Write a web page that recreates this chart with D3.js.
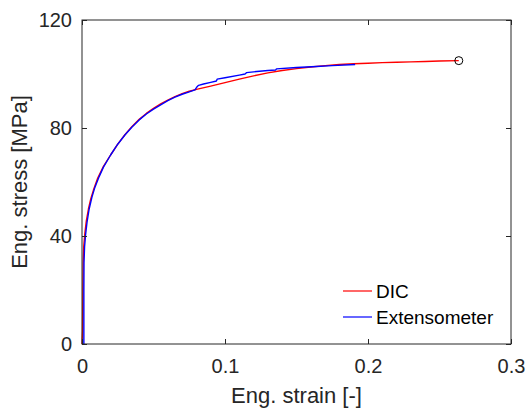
<!DOCTYPE html>
<html>
<head>
<meta charset="utf-8">
<script src="https://cdn.jsdelivr.net/npm/d3@7"></script>
<style>
  html, body { margin: 0; padding: 0; background: #fff; }
  svg { display: block; font-family: "Liberation Sans", Arial, Helvetica, sans-serif; }
</style>
</head>
<body>
<div id="chart"></div>
<script>
// ── Data ──────────────────────────────────────────────────────────────────────
const dicStrain = [0, 0.0004, 0.0006, 0.0008, 0.0012, 0.002, 0.003, 0.0045, 0.006, 0.008,
  0.011, 0.015, 0.02, 0.025, 0.03, 0.035, 0.04, 0.045, 0.05, 0.055, 0.06, 0.065, 0.07,
  0.075, 0.08, 0.09, 0.1, 0.11, 0.12, 0.13, 0.14, 0.15, 0.16, 0.17, 0.18, 0.19, 0.2,
  0.21, 0.22, 0.23, 0.24, 0.25, 0.2635];
const dicStress = [0, 5, 20, 30, 36, 41, 45.5, 50, 53.5, 57,
  61.5, 65.8, 70, 74, 77.5, 80.6, 83.2, 85.4, 87.3, 88.9, 90.3, 91.6, 92.7,
  93.6, 94.3, 95.5, 96.8, 98.1, 99.3, 100.4, 101.3, 102.0, 102.6, 103.1, 103.5, 103.8, 104.0,
  104.2, 104.35, 104.5, 104.65, 104.8, 104.95];

const extStrain = [0.0013, 0.0013, 0.0014, 0.0018, 0.0025, 0.0035, 0.005, 0.007, 0.009,
  0.012, 0.015, 0.02, 0.025, 0.03, 0.035, 0.04, 0.045, 0.05, 0.055, 0.06, 0.065, 0.07,
  0.075, 0.079, 0.0805, 0.0815, 0.085, 0.09, 0.094, 0.0945, 0.1, 0.11, 0.114, 0.115,
  0.12, 0.13, 0.1355, 0.136, 0.15, 0.164, 0.175, 0.191];
const extStress = [0, 20, 30, 36, 40.5, 45, 50, 54.5, 58,
  62, 65.5, 70, 74, 77.4, 80.4, 83, 85.2, 87, 88.6, 90.1, 91.4, 92.5,
  93.4, 94.1, 95.3, 95.8, 96.3, 96.9, 97.4, 98.1, 98.6, 99.6, 100.0, 100.5,
  100.8, 101.3, 101.5, 101.9, 102.4, 102.8, 103.1, 103.5];

const xTicks = [0, 0.1, 0.2, 0.3];
const xTickLabels = ["0", "0.1", "0.2", "0.3"];
const yTicks = [0, 40, 80, 120];
const seriesNames = ["DIC", "Extensometer"];
const seriesColors = ["#ff0000", "#0000ff"];

// ── Dimensions ────────────────────────────────────────────────────────────────
const W = 528, H = 408;
const margin = { top: 20, right: 17, bottom: 64, left: 82 };
const width  = W - margin.left - margin.right;
const height = H - margin.top  - margin.bottom;
const AXIS = "#262626";

const svg = d3.select("#chart").append("svg")
  .attr("width", W).attr("height", H);
const g = svg.append("g")
  .attr("transform", `translate(${margin.left},${margin.top})`);

// ── Scales ────────────────────────────────────────────────────────────────────
const x = d3.scaleLinear().domain([0, 0.3]).range([0, width]);
const y = d3.scaleLinear().domain([0, 120]).range([height, 0]);

// ── Curves ────────────────────────────────────────────────────────────────────
const line = d3.line().x(d => x(d[0])).y(d => y(d[1]));
const series = [
  d3.zip(dicStrain, dicStress),
  d3.zip(extStrain, extStress),
];
series.forEach((pts, i) => {
  g.append("path")
    .datum(pts)
    .attr("fill", "none")
    .attr("stroke", seriesColors[i])
    .attr("stroke-width", 1.4)
    .attr("stroke-linejoin", "round")
    .attr("d", line);
});

// end marker (failure point of DIC curve)
const last = dicStrain.length - 1;
g.append("circle")
  .attr("cx", x(dicStrain[last])).attr("cy", y(dicStress[last]))
  .attr("r", 4)
  .attr("fill", "none").attr("stroke", "#000").attr("stroke-width", 1);

// ── Axes (box on, ticks inward) ───────────────────────────────────────────────
function styleAxis(sel) {
  sel.select(".domain").remove();
  sel.selectAll("line").attr("stroke", AXIS);
  sel.selectAll("text").attr("fill", AXIS).style("font-size", "20px");
}

g.append("g").attr("transform", `translate(0,${height})`)
  .call(d3.axisBottom(x).tickValues(xTicks).tickFormat((d, i) => xTickLabels[i])
    .tickSizeInner(-5).tickSizeOuter(0).tickPadding(15))
  .call(styleAxis);
g.append("g")
  .call(d3.axisTop(x).tickValues(xTicks).tickFormat("")
    .tickSizeInner(-5).tickSizeOuter(0))
  .call(styleAxis);
g.append("g")
  .call(d3.axisLeft(y).tickValues(yTicks)
    .tickSizeInner(-5).tickSizeOuter(0).tickPadding(10))
  .call(styleAxis);
g.append("g").attr("transform", `translate(${width},0)`)
  .call(d3.axisRight(y).tickValues(yTicks).tickFormat("")
    .tickSizeInner(-5).tickSizeOuter(0))
  .call(styleAxis);

g.append("rect")
  .attr("x", 0).attr("y", 0).attr("width", width).attr("height", height)
  .attr("fill", "none").attr("stroke", AXIS).attr("stroke-width", 1);

// ── Labels ────────────────────────────────────────────────────────────────────
svg.append("text")
  .attr("x", margin.left + width / 2).attr("y", 403)
  .attr("text-anchor", "middle").attr("fill", AXIS)
  .style("font-size", "22px")
  .text("Eng. strain [-]");

svg.append("text")
  .attr("transform", `translate(27,${margin.top + height / 2}) rotate(-90)`)
  .attr("text-anchor", "middle").attr("fill", AXIS)
  .style("font-size", "22px")
  .text("Eng. stress [MPa]");

// ── Legend ────────────────────────────────────────────────────────────────────
const legend = svg.append("g").attr("transform", "translate(343,291)");
seriesNames.forEach((name, i) => {
  const row = legend.append("g").attr("transform", `translate(0,${i * 26})`);
  row.append("line")
    .attr("x1", 0).attr("x2", 29).attr("y1", 0).attr("y2", 0)
    .attr("stroke", seriesColors[i]).attr("stroke-width", 1.2);
  row.append("text")
    .attr("x", 33).attr("y", 7)
    .attr("fill", "#000")
    .style("font-size", "19px")
    .text(name);
});
</script>
</body>
</html>
